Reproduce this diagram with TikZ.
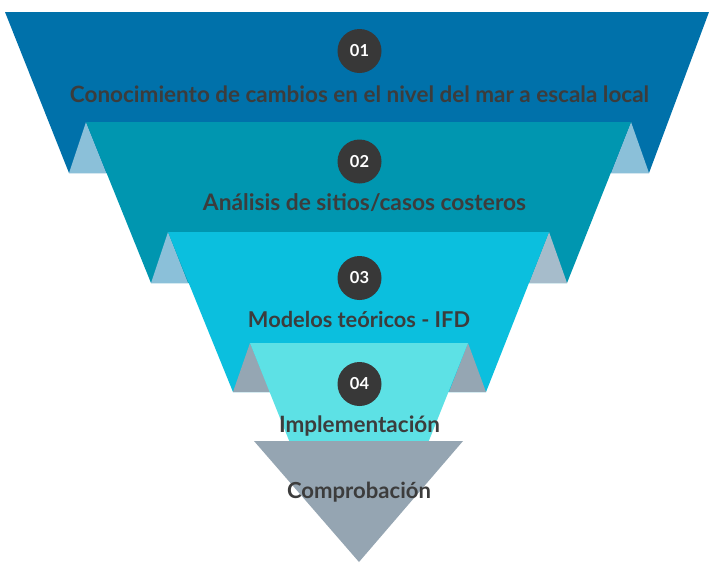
\documentclass[tikz,border=0pt]{standalone}
\usepackage{fontspec}
\setmainfont{Lato}
\usepackage{graphicx}
\definecolor{bandA}{HTML}{0071AA}
\definecolor{bandB}{HTML}{0096B0}
\definecolor{bandC}{HTML}{0BBFDE}
\definecolor{bandD}{HTML}{5DE1E5}
\definecolor{tipGray}{HTML}{95A5B2}
\definecolor{foldBlue}{HTML}{8BC0D9}
\definecolor{foldSlate}{HTML}{A6BCCB}
\definecolor{foldGray}{HTML}{95A6B3}
\definecolor{txt}{HTML}{3C3C3C}
\definecolor{disc}{HTML}{383838}
\tikzset{
  numdisc/.style={circle, fill=disc, minimum size=44pt, inner sep=0pt, text=white,
    font=\bfseries\fontsize{16.5}{16.5}\selectfont},
  label/.style={inner sep=0pt, anchor=base, text=txt, font=\bfseries\fontsize{20}{24}\selectfont}
}
\begin{document}
\begin{tikzpicture}[x=1pt,y=-1pt]
\useasboundingbox (0,0) rectangle (709,563);
\fill[white] (0,0) rectangle (709,563);
% bands
\fill[bandA] (5,12) -- (709,12) -- (649,173) -- (69,173) -- cycle;
\fill[foldBlue] (86,122) -- (69,173) -- (106.4,173) -- cycle;
\fill[foldBlue] (631,122) -- (649,173) -- (611,173) -- cycle;
\fill[bandB] (86,122) -- (631,122) -- (567,283) -- (151,283) -- cycle;
\fill[foldBlue] (168,232) -- (151,283) -- (188,283) -- cycle;
\fill[foldSlate] (549,232) -- (567,283) -- (529,283) -- cycle;
\fill[bandC] (168,232) -- (549,232) -- (486,392) -- (233,392) -- cycle;
\fill[foldGray] (250,343) -- (233,392) -- (270,392) -- cycle;
\fill[foldGray] (468,343) -- (486,392) -- (449,392) -- cycle;
\fill[bandD] (250,343) -- (468,343) -- (428,443) -- (290,443) -- cycle;
\fill[tipGray] (254,441) -- (463,441) -- (359,562) -- cycle;
% number discs
\node[numdisc] (n1) at (359.5,51) {01};
\node[numdisc] (n2) at (359.5,161.5) {02};
\node[numdisc] (n3) at (359.5,278) {03};
\node[numdisc] (n4) at (359.5,384) {04};
% labels
\node[label] (t1) at (359.5,102) {\resizebox{579pt}{!}{Conocimiento de cambios en el nivel del mar a escala local}};
\node[label] (t2) at (364.5,210) {\resizebox{323pt}{!}{Análisis de sitios/casos costeros}};
\node[label] (t3) at (359,327) {\resizebox{222pt}{!}{Modelos teóricos - IFD}};
\node[label] (t4) at (359.5,432) {\resizebox{161pt}{!}{Implementación}};
\node[label] (t5) at (359,498) {\resizebox{144pt}{!}{Comprobación}};
\end{tikzpicture}
\end{document}
